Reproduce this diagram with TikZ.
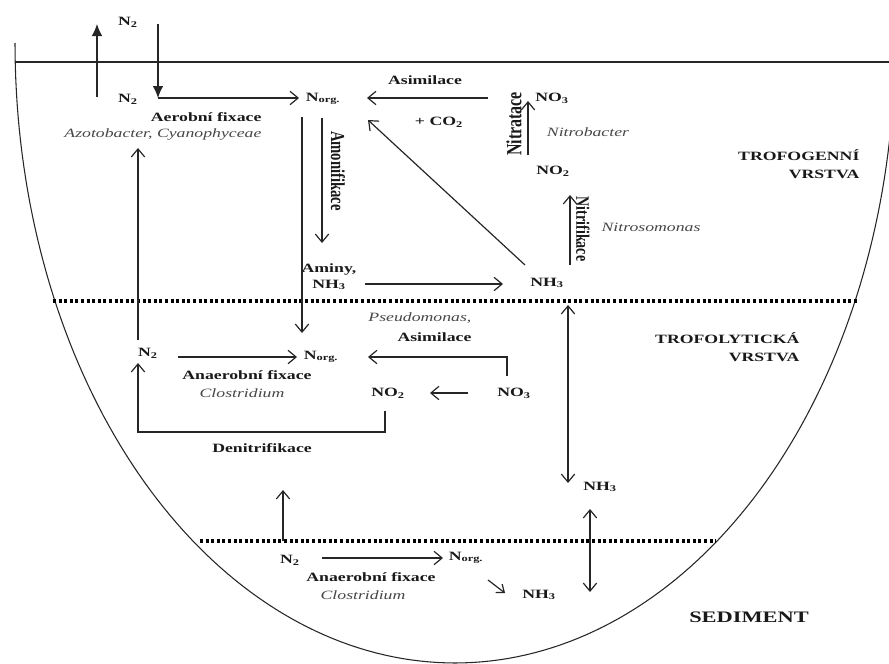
\documentclass[tikz,border=0pt]{standalone}
\usepackage{fontspec}
\setmainfont{Liberation Serif}[FakeStretch=1.4]
\newfontfamily\rotfont{Liberation Serif}
\usetikzlibrary{arrows.meta}
\newcommand{\thicktext}[1]{\scalebox{1}[1.35]{#1}}
\begin{document}
\begin{tikzpicture}[x=0.75pt,y=-0.75pt,
  lbl/.style={font=\fontsize{9.5}{13.5}\selectfont\bfseries, text=black!90, inner sep=1pt},
  itl/.style={font=\fontsize{9.5}{13.5}\selectfont\itshape, text=black!72, inner sep=1pt},
  rot/.style={font=\rotfont\fontsize{10.5}{12}\selectfont\bfseries, text=black!90, inner sep=1pt},
  big/.style={font=\fontsize{12}{14}\selectfont\bfseries, text=black!90, inner sep=1pt},
  ln/.style={draw=black!85, line width=0.9pt},
  arr/.style={ln, -{Straight Barb[length=6pt,width=10pt]}},
  darr/.style={ln, {Straight Barb[length=6pt,width=10pt]}-{Straight Barb[length=6pt,width=10pt]}},
  farr/.style={ln, -{Latex[length=9pt,width=8pt]}},
  dotline/.style={draw=black, line width=2.5pt, dash pattern=on 2.2pt off 2pt}]
\useasboundingbox (0,0) rectangle (889,664);
% bowl and surface
\begin{scope}
\clip (0,0) rectangle (889,664);
\draw[ln, line width=0.8pt] plot[domain=180:352,samples=150] ({455+440*cos(\x)},{43-620*sin(\x)});
\end{scope}
\coordinate (surfL) at (15,62);
\coordinate (surfR) at (889,62);
\draw[ln] (surfL) -- (surfR);
\coordinate (d1L) at (53,301);
\coordinate (d1R) at (857,301);
\coordinate (d2L) at (200,541);
\coordinate (d2R) at (716,541);
\draw[dotline] (d1L) -- (d1R);
\draw[dotline] (d2L) -- (d2R);

% ---------- top layer ----------
\node[lbl] (n2top) at (128,22) {N\textsubscript{2}};
\node[lbl] (n2a) at (128,99) {N\textsubscript{2}};
\coordinate (upA) at (97,97);
\coordinate (upB) at (97,24);
\coordinate (dnA) at (158,24);
\coordinate (dnB) at (158,98);
\draw[farr] (upA) -- (upB);
\draw[farr] (dnA) -- (dnB);
\node[lbl] (norg1) at (323,99) {N\textsubscript{org.}};
\coordinate (aerEnd) at (299,98);
\draw[arr] (dnB) -- (aerEnd);
\node[lbl, anchor=east] (aer) at (263,117) {Aerobní fixace};
\node[itl, anchor=east] (azo) at (263,134) {Azotobacter, Cyanophyceae};

\coordinate (asA) at (488,98);
\coordinate (asB) at (367,98);
\draw[arr] (asA) -- (asB);
\node[lbl] (asim1) at (425,80) {Asimilace};
\node[lbl] (co2) at (439,122) {+ CO\textsubscript{2}};
\node[lbl] (no3a) at (552,98) {NO\textsubscript{3}};
\coordinate (ntA) at (528,155);
\coordinate (ntB) at (528,101);
\draw[arr] (ntA) -- (ntB);
\node[rot, rotate=90, font=\rotfont\fontsize{12}{14}\selectfont\bfseries] (nitrat) at (514,124) {\thicktext{Nitratace}};
\node[itl] (nbac) at (588,132) {Nitrobacter};
\node[lbl] (no2a) at (553,171) {NO\textsubscript{2}};
\coordinate (nfA) at (570,265);
\coordinate (nfB) at (570,195);
\draw[arr] (nfA) -- (nfB);
\node[rot, rotate=-90] (nitrif) at (583,229) {\thicktext{Nitrifikace}};
\node[itl] (nsom) at (651,227) {Nitrosomonas};
\node[lbl, align=right, anchor=east] (trofog) at (861,164) {TROFOGENNÍ\\VRSTVA};

\node[lbl] (nh3a) at (547,283) {NH\textsubscript{3}};
\coordinate (diagA) at (525,265);
\coordinate (diagB) at (368,120);
\draw[arr] (diagA) -- (diagB);
\node[lbl, align=center, font=\fontsize{9.5}{11.5}\selectfont\bfseries] (aminy) at (329,277) {Aminy,\\NH\textsubscript{3}};
\coordinate (amA) at (365,284);
\coordinate (amB) at (503,284);
\draw[arr] (amA) -- (amB);
\coordinate (amoA) at (322,118);
\coordinate (amoB) at (322,243);
\draw[arr] (amoA) -- (amoB);
\node[rot, rotate=-90, font=\rotfont\fontsize{11}{13}\selectfont\bfseries] (amon) at (338,171) {\thicktext{Amonifikace}};
\coordinate (longA) at (302,117);
\coordinate (longB) at (302,333);
\draw[arr] (longA) -- (longB);

% ---------- trofolytic layer ----------
\node[lbl] (n2b) at (148,353) {N\textsubscript{2}};
\coordinate (n2up) at (138,340);
\coordinate (n2upB) at (138,148);
\draw[arr] (n2up) -- (n2upB);
\coordinate (anA) at (178,357);
\coordinate (anB) at (297,357);
\draw[arr] (anA) -- (anB);
\node[lbl] (norg2) at (321,357) {N\textsubscript{org.}};
\node[lbl] (anaer1) at (247,375) {Anaerobní fixace};
\node[itl] (clos1) at (242,393) {Clostridium};
\coordinate (asiA) at (507,376);
\coordinate (asiC) at (507,357);
\coordinate (asiB) at (368,357);
\draw[arr] (asiA) -- (asiC) -- (asiB);
\node[itl, anchor=east] (pseudo) at (473,318) {Pseudomonas,};
\node[lbl, anchor=east] (asim2) at (473,337) {Asimilace};
\node[lbl] (no2b) at (388,393) {NO\textsubscript{2}};
\node[lbl] (no3b) at (514,393) {NO\textsubscript{3}};
\coordinate (redA) at (468,393);
\coordinate (redB) at (430,393);
\draw[arr] (redA) -- (redB);
\coordinate (denA) at (385,411);
\coordinate (denC1) at (385,432);
\coordinate (denC2) at (138,432);
\coordinate (denB) at (138,363);
\draw[arr] (denA) -- (denC1) -- (denC2) -- (denB);
\node[lbl] (denit) at (262,448) {Denitrifikace};
\node[lbl, align=right, anchor=east] (trofol) at (801,347) {TROFOLYTICKÁ\\VRSTVA};
\coordinate (exA) at (568,305);
\coordinate (exB) at (568,483);
\draw[darr] (exA) -- (exB);
\node[lbl] (nh3b) at (600,487) {NH\textsubscript{3}};

% ---------- sediment ----------
\coordinate (sedUpA) at (283,541);
\coordinate (sedUpB) at (283,490);
\draw[arr] (sedUpA) -- (sedUpB);
\node[lbl] (n2c) at (290,560) {N\textsubscript{2}};
\coordinate (sfA) at (322,558);
\coordinate (sfB) at (443,558);
\draw[arr] (sfA) -- (sfB);
\node[lbl] (norg3) at (466,558) {N\textsubscript{org.}};
\node[lbl] (anaer2) at (371,577) {Anaerobní fixace};
\node[itl] (clos2) at (363,595) {Clostridium};
\coordinate (smA) at (488,580);
\coordinate (smB) at (505,593);
\draw[ln, -{Straight Barb[length=5pt,width=8pt]}] (smA) -- (smB);
\node[lbl] (nh3c) at (539,595) {NH\textsubscript{3}};
\coordinate (ex2A) at (590,509);
\coordinate (ex2B) at (590,592);
\draw[darr] (ex2A) -- (ex2B);
\node[big] (sed) at (749,617) {SEDIMENT};
\end{tikzpicture}
\end{document}
